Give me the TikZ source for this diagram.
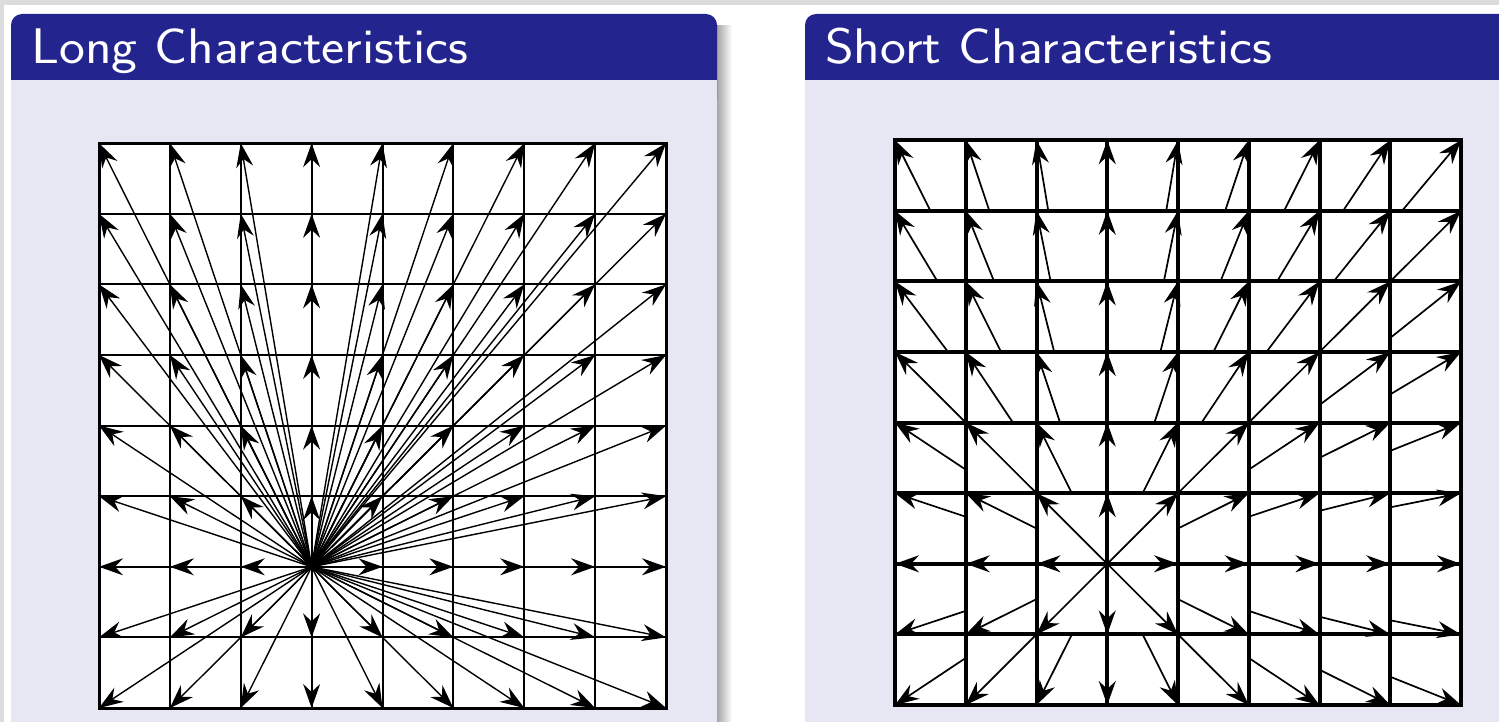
\documentclass[tikz,border=0pt]{standalone}
\usetikzlibrary{arrows.meta}
\definecolor{titleblue}{RGB}{36,36,142}
\definecolor{bodybg}{RGB}{230,231,242}
\definecolor{framegray}{RGB}{220,220,220}
\tikzset{
  longarr/.style={line width=1.4pt, -{Stealth[length=24pt,width=17pt,inset=8pt]}},
  shortarr/.style={line width=1.7pt, -{Stealth[length=24pt,width=17pt,inset=8pt]}},
  titletext/.style={text=white, font=\sffamily\fontsize{50}{60}\selectfont, anchor=base west, inner sep=0pt},
  titlebar/.style={fill=titleblue, rounded corners=11pt},
  blockbody/.style={fill=bodybg},
  thingrid/.style={line width=2pt},
  thickgrid/.style={line width=4pt},
}
\begin{document}
\begin{tikzpicture}[x=1pt,y=-1pt]
\clip (0,0) rectangle (1499,722);
\fill[white] (0,0) rectangle (1499,722);
\fill[framegray] (0,0) rectangle (1499,5);
\fill[framegray] (0,0) rectangle (4,722);
% shadow of left block
\shade[left color=black!35, right color=white] (717,26) rectangle (732,722);
% left block
\path[titlebar] (11,14) rectangle (717,110);
\path[blockbody] (11,80) rectangle (717,722);
\node[titletext] (lt) at (31,64) {\scalebox{1.1}[1]{Long Characteristics}};
% right block
\path[titlebar] (805,14) rectangle (1530,110);
\path[blockbody] (805,80) rectangle (1499,722);
\node[titletext] (rt) at (825,64) {\scalebox{1.1}[1]{Short Characteristics}};

% ---------- long characteristics ----------
\begin{scope}[xshift=99pt, yshift=-708pt, x=70.875pt, y=70.6pt]
  \fill[white] (0,0) rectangle (8,8);
  \foreach \k in {1,...,7} {
    \draw[thingrid] (\k,0) -- (\k,8);
    \draw[thingrid] (0,\k) -- (8,\k);
  }
  \draw[line width=3pt] (0,0) rectangle (8,8);
  \coordinate (LS) at (3,2);
  \foreach \i in {0,...,8} {
    \foreach \j in {0,...,8} {
      \coordinate (L-\i-\j) at (\i,\j);
      \pgfmathtruncatemacro\isS{(\i==3)&&(\j==2)}
      \ifnum\isS=0
        \draw[longarr] (LS) -- (L-\i-\j);
      \fi
    }
  }
\end{scope}

% ---------- short characteristics ----------
\begin{scope}[xshift=895pt, yshift=-705pt, x=70.75pt, y=70.6pt]
  \fill[white] (0,0) rectangle (8,8);
  \foreach \k in {1,...,7} {
    \draw[thickgrid] (\k,0) -- (\k,8);
    \draw[thickgrid] (0,\k) -- (8,\k);
  }
  \draw[line width=4pt] (0,0) rectangle (8,8);
  \coordinate (RS) at (3,2);
  \foreach \i in {0,...,8} {
    \foreach \j in {0,...,8} {
      \coordinate (R-\i-\j) at (\i,\j);
      \pgfmathtruncatemacro\isS{(\i==3)&&(\j==2)}
      \ifnum\isS=0
        \pgfmathsetmacro\mm{max(abs(\i-3),abs(\j-2))}
        \pgfmathsetmacro\sx{\i-(\i-3)/\mm}
        \pgfmathsetmacro\sy{\j-(\j-2)/\mm}
        \coordinate (Rs-\i-\j) at (\sx,\sy);
        \draw[shortarr] (Rs-\i-\j) -- (R-\i-\j);
      \fi
    }
  }
\end{scope}
\end{tikzpicture}
\end{document}
